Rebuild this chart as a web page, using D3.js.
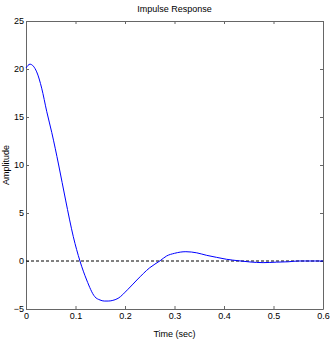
<!DOCTYPE html>
<html>
<head>
<meta charset="utf-8">
<script src="https://cdn.jsdelivr.net/npm/d3@7"></script>
<style>
  body { margin: 0; background: #fff; }
  text { font-family: "Liberation Sans", Arial, sans-serif; font-size: 9px; fill: #000; }
</style>
</head>
<body>
<div id="chart"></div>
<script>
// impulse response samples
const time = [0, 0.008, 0.0216, 0.0317, 0.042, 0.052, 0.066, 0.080, 0.0956, 0.109, 0.1226, 0.139, 0.1495, 0.158, 0.166, 0.174, 0.186, 0.205, 0.224, 0.25, 0.271, 0.284, 0.300, 0.323, 0.345, 0.365, 0.385, 0.405, 0.43, 0.4525, 0.479, 0.506, 0.53, 0.55, 0.6];
const amplitude = [20.1, 20.5, 19.7, 18.0, 15.55, 13.4, 10.0, 6.35, 2.53, 0, -1.98, -3.72, -4.06, -4.17, -4.17, -4.12, -3.89, -3.0, -1.98, -0.70, 0.03, 0.52, 0.8, 0.97, 0.85, 0.59, 0.38, 0.18, 0.02, -0.10, -0.17, -0.12, -0.08, 0, 0];
const xTicks = [0, 0.1, 0.2, 0.3, 0.4, 0.5, 0.6];
const yTicks = [-5, 0, 5, 10, 15, 20, 25];

const W = 331, H = 342;
const margin = {top: 21, right: 8, bottom: 33, left: 26};
const width = W - margin.left - margin.right,
      height = H - margin.top - margin.bottom;

const svg = d3.select("#chart")
  .append("svg")
    .attr("width", W)
    .attr("height", H)
  .append("g")
    .attr("transform", `translate(${margin.left},${margin.top})`);

const x = d3.scaleLinear().domain([0, 0.6]).range([0, width]);
const y = d3.scaleLinear().domain([-5, 25]).range([height, 0]);

const axisColor = "#666";

// axes with inward ticks on all four sides
const fmt = d => d === 0 ? "0" : String(d);
const axBottom = svg.append("g").attr("transform", `translate(0,${height})`)
  .call(d3.axisBottom(x).tickValues(xTicks).tickSizeInner(-3).tickSizeOuter(0).tickPadding(4).tickFormat(fmt));
const axTop = svg.append("g")
  .call(d3.axisTop(x).tickValues(xTicks).tickSizeInner(-3).tickSizeOuter(0).tickFormat(""));
const axLeft = svg.append("g")
  .call(d3.axisLeft(y).tickValues(yTicks).tickSizeInner(-3).tickSizeOuter(0).tickPadding(2));
const axRight = svg.append("g").attr("transform", `translate(${width},0)`)
  .call(d3.axisRight(y).tickValues(yTicks).tickSizeInner(-3).tickSizeOuter(0).tickFormat(""));

[axBottom, axTop, axLeft, axRight].forEach(g => {
  g.selectAll("path, line").attr("stroke", axisColor);
  g.selectAll("text").style("font-size", "9px").attr("fill", "#000");
});

// zero reference line
svg.append("line")
  .attr("x1", x(0)).attr("x2", x(0.6))
  .attr("y1", y(0)).attr("y2", y(0))
  .attr("stroke", "#000")
  .attr("stroke-dasharray", "3,2");

// response curve
const pts = time.map((t, i) => [t, amplitude[i]]);
svg.append("path")
  .datum(pts)
  .attr("fill", "none")
  .attr("stroke", "#0000ff")
  .attr("stroke-width", 1)
  .attr("d", d3.line().x(d => x(d[0])).y(d => y(d[1])).curve(d3.curveMonotoneX));

// labels
svg.append("text")
  .attr("x", width / 2).attr("y", -9)
  .attr("text-anchor", "middle")
  .text("Impulse Response");

svg.append("text")
  .attr("x", width / 2).attr("y", height + 28)
  .attr("text-anchor", "middle")
  .text("Time (sec)");

svg.append("text")
  .attr("transform", `translate(${-17},${height / 2}) rotate(-90)`)
  .attr("text-anchor", "middle")
  .text("Amplitude");
</script>
</body>
</html>
